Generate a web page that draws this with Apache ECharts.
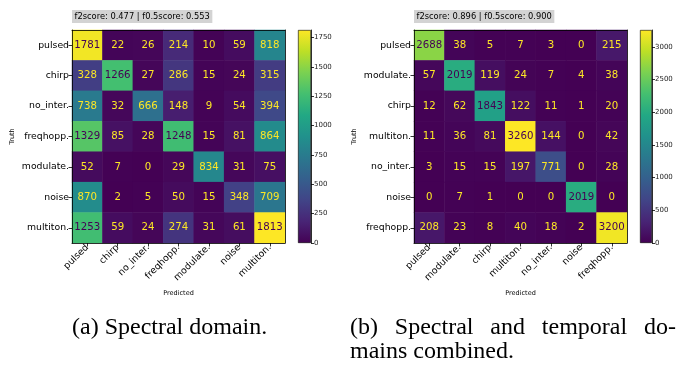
<!DOCTYPE html>
<html>
<head>
<meta charset="utf-8">
<script src="https://cdn.jsdelivr.net/npm/echarts@6/dist/echarts.min.js"></script>
<style>
  html, body { margin: 0; padding: 0; background: #fff; }
  #chart { width: 678px; height: 365px; }
</style>
</head>
<body>
<div id="chart"></div>
<script>
// ---- Data: confusion matrices (rows = truth, columns = predicted) ----
const classesA = ['pulsed', 'chirp', 'no_inter.', 'freqhopp.', 'modulate.', 'noise', 'multiton.'];
const matrixA = [
  [1781, 22, 26, 214, 10, 59, 818],
  [328, 1266, 27, 286, 15, 24, 315],
  [738, 32, 666, 148, 9, 54, 394],
  [1329, 85, 28, 1248, 15, 81, 864],
  [52, 7, 0, 29, 834, 31, 75],
  [870, 2, 5, 50, 15, 348, 709],
  [1253, 59, 24, 274, 31, 61, 1813]
];
const ticksA = [0, 250, 500, 750, 1000, 1250, 1500, 1750];
const scoreA = 'f2score: 0.477 | f0.5score: 0.553';
const captionA = '(a) Spectral domain.';

const classesB = ['pulsed', 'modulate.', 'chirp', 'multiton.', 'no_inter.', 'noise', 'freqhopp.'];
const matrixB = [
  [2688, 38, 5, 7, 3, 0, 215],
  [57, 2019, 119, 24, 7, 4, 38],
  [12, 62, 1843, 122, 11, 1, 20],
  [11, 36, 81, 3260, 144, 0, 42],
  [3, 15, 15, 197, 771, 0, 28],
  [0, 7, 1, 0, 0, 2019, 0],
  [208, 23, 8, 40, 18, 2, 3200]
];
const ticksB = [0, 500, 1000, 1500, 2000, 2500, 3000];
const scoreB = 'f2score: 0.896 | f0.5score: 0.900';
const captionB1 = ['(b)', 'Spectral', 'and', 'temporal', 'do-'];
const captionB2 = 'mains combined.';

// ---- Styling ----
const viridis = ['#440154', '#482475', '#414487', '#355f8d', '#2a788e', '#21918c',
                 '#22a884', '#44bf70', '#7ad151', '#bddf26', '#fde725'];
const SANS = '"DejaVu Sans", sans-serif';

function flatMax(m) { return Math.max(...m.map(r => Math.max(...r))); }
function flatMin(m) { return Math.min(...m.map(r => Math.min(...r))); }

// cell text is light on dark cells and dark on light cells
function cells(m) {
  const mx = flatMax(m), mn = flatMin(m), thresh = (mx + mn) / 2;
  const out = [];
  m.forEach((row, i) => row.forEach((v, j) => {
    out.push({ value: [j, i, v], label: { color: v < thresh ? viridis[10] : viridis[0] } });
  }));
  return out;
}

const maxA = flatMax(matrixA), maxB = flatMax(matrixB);

const G = [
  { left: 72, top: 30, width: 213, height: 213 },   // matrix a
  { left: 414, top: 30, width: 213, height: 213 },  // matrix b
  { left: 298, top: 30, width: 13, height: 213 },   // colorbar a
  { left: 640, top: 30, width: 12, height: 213 }    // colorbar b
];

function catX(grid, data) {
  return {
    type: 'category', gridIndex: grid, data: data, z: 5,
    name: 'Predicted', nameLocation: 'middle', nameGap: 47,
    nameTextStyle: { fontSize: 6.5, fontFamily: SANS, color: '#000' },
    axisLine: { show: true, lineStyle: { color: '#000', width: 0.8 } },
    axisTick: { show: true, alignWithLabel: true, length: 3.5, lineStyle: { color: '#000', width: 0.8 } },
    axisLabel: { rotate: 45, fontSize: 9.3, fontFamily: SANS, color: '#000', margin: 3, interval: 0 },
    splitLine: { show: false }
  };
}
function catY(grid, data) {
  return {
    type: 'category', gridIndex: grid, data: data, inverse: true, z: 5,
    name: 'Truth', nameLocation: 'middle', nameGap: 56, nameRotate: 90,
    nameTextStyle: { fontSize: 6.5, fontFamily: SANS, color: '#000' },
    axisLine: { show: true, lineStyle: { color: '#000', width: 0.8 } },
    axisTick: { show: true, alignWithLabel: true, length: 3.5, lineStyle: { color: '#000', width: 0.8 } },
    axisLabel: { fontSize: 9.3, fontFamily: SANS, color: '#000', margin: 3, interval: 0 },
    splitLine: { show: false }
  };
}
// plain frame lines on the opposite sides of each matrix
function frameAxis(grid, pos) {
  return {
    type: 'value', gridIndex: grid, position: pos, min: 0, max: 1, z: 5,
    axisLine: { show: true, onZero: false, lineStyle: { color: '#000', width: 0.8 } },
    axisTick: { show: false }, axisLabel: { show: false }, splitLine: { show: false }
  };
}
function barX(grid) {
  return {
    type: 'category', gridIndex: grid, data: [''], z: 5,
    axisLine: { show: false }, axisTick: { show: false }, axisLabel: { show: false }
  };
}
function barY(grid, max, ticks) {
  return {
    type: 'value', gridIndex: grid, position: 'right', min: 0, max: max, z: 5,
    axisLine: { show: true, lineStyle: { color: '#000', width: 0.8 } },
    axisTick: { show: true, length: 3, customValues: ticks, lineStyle: { color: '#000', width: 0.8 } },
    axisLabel: { fontSize: 7, fontFamily: SANS, color: '#222', margin: 3, customValues: ticks,
                 formatter: v => String(v) },
    splitLine: { show: false }
  };
}

const stops = viridis.map((c, i) => ({ offset: i / (viridis.length - 1), color: c }));
function barSeries(idx, max) {
  return {
    type: 'bar', xAxisIndex: idx, yAxisIndex: idx, data: [max], barWidth: '100%', silent: true,
    itemStyle: {
      color: new echarts.graphic.LinearGradient(0, 1, 0, 0, stops),
      borderColor: '#000', borderWidth: 0.6
    }
  };
}
function heat(idx, m) {
  return {
    type: 'heatmap', xAxisIndex: idx, yAxisIndex: idx, data: cells(m),
    label: { show: true, fontSize: 10.2, fontFamily: SANS },
    emphasis: { disabled: true }, silent: true
  };
}

// captions; the first line of caption b is justified across its column
function measure(txt, font) {
  const c = document.createElement('canvas').getContext('2d');
  c.font = font; return c.measureText(txt).width;
}
const capFont = '24px "Liberation Serif"';
const lineLeft = 350, lineRight = 676;
const wordW = captionB1.map(w => measure(w, capFont));
const gap = (lineRight - lineLeft - wordW.reduce((a, b) => a + b, 0)) / (captionB1.length - 1);
const capTop1 = 316, capTop2 = 340;
const captionEls = [];
let cx = lineLeft;
captionB1.forEach((w, k) => {
  captionEls.push({ type: 'text', x: cx, y: capTop1,
    style: { text: w, font: capFont, fill: '#000', verticalAlign: 'top' } });
  cx += wordW[k] + gap;
});
captionEls.push({ type: 'text', x: lineLeft, y: capTop2,
  style: { text: captionB2, font: capFont, fill: '#000', verticalAlign: 'top' } });
captionEls.push({ type: 'text', x: 72, y: capTop1,
  style: { text: captionA, font: capFont, fill: '#000', verticalAlign: 'top' } });

const chart = echarts.init(document.getElementById('chart'), null, { renderer: 'canvas' });
chart.setOption({
  animation: false,
  backgroundColor: '#fff',
  title: [
    { text: scoreA, left: 72, top: 10, padding: [2, 2.5, 1.5, 2.5], backgroundColor: '#d3d3d3',
      textStyle: { fontSize: 8.3, fontWeight: 'normal', fontFamily: SANS, color: '#000', lineHeight: 9.5 } },
    { text: scoreB, left: 414, top: 10, padding: [2, 2.5, 1.5, 2.5], backgroundColor: '#d3d3d3',
      textStyle: { fontSize: 8.3, fontWeight: 'normal', fontFamily: SANS, color: '#000', lineHeight: 9.5 } }
  ],
  grid: G,
  xAxis: [catX(0, classesA), catX(1, classesB), barX(2), barX(3), frameAxis(0, 'top'), frameAxis(1, 'top')],
  yAxis: [catY(0, classesA), catY(1, classesB), barY(2, maxA, ticksA), barY(3, maxB, ticksB),
          frameAxis(0, 'right'), frameAxis(1, 'right')],
  visualMap: [
    { type: 'continuous', show: false, seriesIndex: 0, min: 0, max: maxA, inRange: { color: viridis } },
    { type: 'continuous', show: false, seriesIndex: 1, min: 0, max: maxB, inRange: { color: viridis } }
  ],
  series: [heat(0, matrixA), heat(1, matrixB), barSeries(2, maxA), barSeries(3, maxB)],
  graphic: captionEls
});
</script>
</body>
</html>
